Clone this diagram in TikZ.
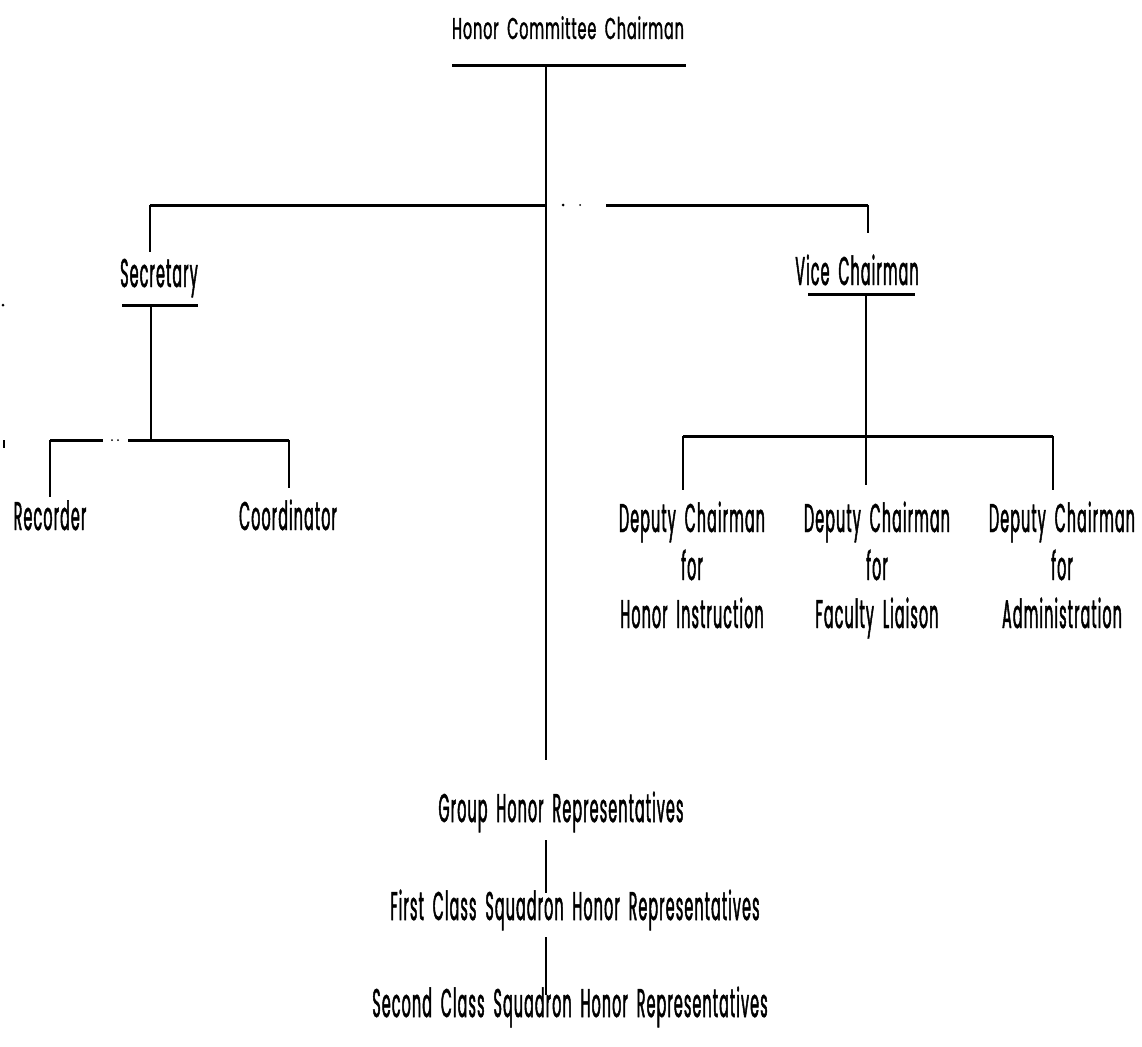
\documentclass[tikz,border=0pt]{standalone}
\usepackage{fontspec}
\setmainfont[FakeStretch=0.48,FakeBold=1.2,LetterSpace=3,WordSpace=1.8]{Poppins}
\newfontfamily\tallfont[FakeStretch=0.355,FakeBold=1.2,LetterSpace=3,WordSpace=1.8]{Poppins}
\begin{document}
\begin{tikzpicture}[x=1pt,y=-1pt,
  lbl/.style={font=\tallfont\fontsize{40}{48}\selectfont, inner sep=0pt, align=center, anchor=base},
  headlbl/.style={font=\fontsize{30}{35}\selectfont, inner sep=0pt, anchor=base},
  hbar/.style={line width=3pt},
  vbar/.style={line width=2pt},
  slim/.style={line width=1.2pt}]
\useasboundingbox (0,0) rectangle (1142,1046);

% ---- titles -------------------------------------------------------------
\node[headlbl] (chair) at (568,39) {Honor Committee Chairman};
\node[lbl] (sec)   at (159,287) {Secretary};
\node[lbl] (vice)  at (857,285) {Vice Chairman};
\node[lbl] (rec)   at (50,530)  {Recorder};
\node[lbl] (coord) at (288,530) {Coordinator};
\node[lbl] (dep1)  at (692,628) {Deputy Chairman\\for\\Honor Instruction};
\node[lbl] (dep2)  at (877,628) {Deputy Chairman\\for\\Faculty Liaison};
\node[lbl] (dep3)  at (1062,628) {Deputy Chairman\\for\\Administration};
\node[lbl] (grp)   at (561,822) {Group Honor Representatives};
\node[lbl] (first) at (575,920) {First Class Squadron Honor Representatives};
\node[lbl] (second) at (570,1017) {Second Class Squadron Honor Representatives};

% ---- junction points ----------------------------------------------------
\coordinate (chairL) at (452,66);
\coordinate (chairR) at (686,66);
\coordinate (top)    at (546,66);
\coordinate (trunkEnd) at (546,760);
\coordinate (brL) at (150,205);
\coordinate (brR) at (868,205);
\coordinate (secDrop) at (150,252);
\coordinate (viceDrop) at (868,233);
\coordinate (secUL) at (122,305);
\coordinate (secUR) at (198,305);
\coordinate (secJ)  at (151,305);
\coordinate (secBar) at (151,440);
\coordinate (sbL) at (50,440);
\coordinate (sbR) at (289,440);
\coordinate (recTop) at (50,497);
\coordinate (coordTop) at (289,488);
\coordinate (viceUL) at (808,294);
\coordinate (viceUR) at (915,294);
\coordinate (viceJ)  at (866,294);
\coordinate (vbL) at (683,436);
\coordinate (vbM) at (866,436);
\coordinate (vbR) at (1053,436);
\coordinate (d1Top) at (683,490);
\coordinate (d2Top) at (866,485);
\coordinate (d3Top) at (1053,490);

% ---- chairman and main trunk --------------------------------------------
\draw[hbar] (chairL) -- (chairR);
\draw[vbar] (top) -- (trunkEnd);

% main branch (broken print line near the centre)
\draw[hbar] (brL) -- (547,205);
\fill (563,205) circle (1.5);
\fill (580,205) circle (1);
\draw[hbar] (606,205) -- (brR);
\draw[vbar] (brL) -- (secDrop);
\draw[vbar] (brR) -- (viceDrop);

% ---- secretary branch ---------------------------------------------------
\draw[hbar] (secUL) -- (secUR);
\draw[vbar] (secJ) -- (secBar);
\draw[hbar] (sbL) -- (103,440);
\fill (112,440) circle (1);
\fill (118,440) circle (1);
\draw[hbar] (128,440) -- (sbR);
\draw[vbar] (sbL) -- (recTop);
\draw[vbar] (sbR) -- (coordTop);

% ---- vice chairman branch -----------------------------------------------
\draw[hbar] (viceUL) -- (viceUR);
\draw[vbar] (viceJ) -- (vbM);
\draw[hbar] (vbL) -- (vbR);
\draw[vbar] (vbL) -- (d1Top);
\draw[vbar] (vbM) -- (d2Top);
\draw[vbar] (vbR) -- (d3Top);

% ---- representatives chain ----------------------------------------------
\coordinate (c1a) at (546,840);
\coordinate (c1b) at (546,893);
\coordinate (c2a) at (546,937);
\coordinate (c2b) at (546,995);
\draw[slim] (c1a) -- (c1b);
\draw[slim] (c2a) -- (c2b);

% stray specks at the left edge
\fill (3,305) circle (1.5);
\draw[slim] (4,440) -- (4,448);
\end{tikzpicture}
\end{document}
